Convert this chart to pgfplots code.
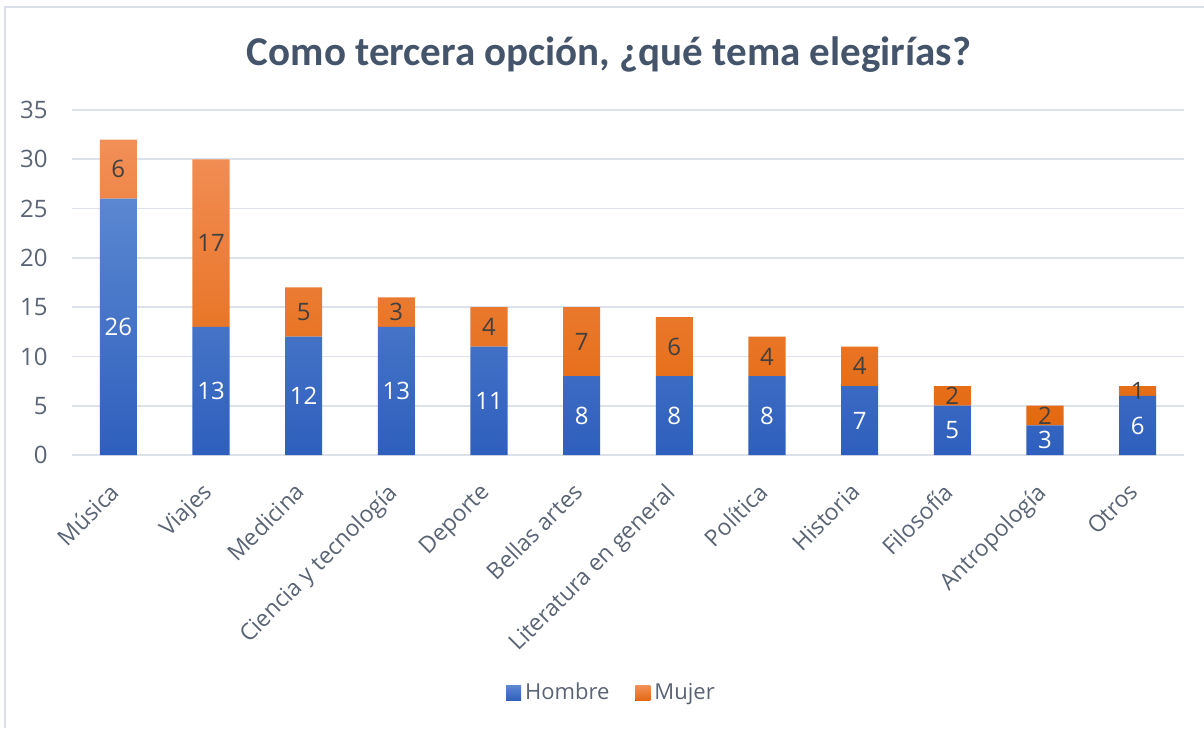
\documentclass[border=0pt]{standalone}
\usepackage{pgfplots}
\pgfplotsset{compat=1.18}
\usepackage{pgfplotstable}
\usepackage{fontspec}
\setmainfont{Open Sans}
\newfontfamily\titlefont{Carlito}
\definecolor{txt}{HTML}{5A6474}
\definecolor{ttl}{HTML}{44546A}
\definecolor{gridc}{HTML}{DDE1EA}
\definecolor{borderc}{HTML}{D9DEE8}
\definecolor{bluetop}{HTML}{5B87D1}
\definecolor{bluebot}{HTML}{2E5FBD}
\definecolor{orgtop}{HTML}{F28F58}
\definecolor{orgbot}{HTML}{E4690F}

\pgfplotstableread{
x h m
0 26 6
1 13 17
2 12 5
3 13 3
4 11 4
5 8 7
6 8 6
7 8 4
8 7 4
9 5 2
10 3 2
11 6 1
}\datatable

\begin{document}
\begin{tikzpicture}
\path[use as bounding box] (0pt,0pt) rectangle (602pt,-364pt);
\fill[white] (0pt,0pt) rectangle (602pt,-364pt);
\draw[color=borderc, line width=1pt] (2.5pt,-364pt) -- (2.5pt,-3.5pt) -- (602pt,-3.5pt);
\node[font=\titlefont\bfseries\fontsize{20.5}{24}\selectfont, text=ttl] at (304.5pt,-27.5pt) {Como tercera opción, ¿qué tema elegirías?};
\begin{axis}[
  at={(36pt,-227.5pt)}, anchor=south west,
  width=556pt, height=172.5pt, scale only axis,
  ybar stacked, bar width=0.4,
  xmin=-0.5, xmax=11.5, ymin=0, ymax=35,
  ytick={0,5,...,35},
  xtick={0,...,11},
  xticklabels={Música,Viajes,Medicina,Ciencia y tecnología,Deporte,Bellas artes,Literatura en general,Política,Historia,Filosofía,Antropología,Otros},
  axis line style={draw=none},
  ymajorgrids, grid style={color=gridc, line width=0.8pt},
  major tick length=0pt,
  /pgf/number format/assume math mode=true,
  tick label style={text=txt},
  xticklabel style={font=\fontsize{11.5}{13}\selectfont, xshift=-5pt, yshift=-13pt, rotate=45, anchor=north east, inner sep=0pt},
  yticklabel style={font=\fontsize{12}{14}\selectfont, anchor=east, inner sep=0pt, xshift=-12pt},
  legend style={at={(0.486,-0.69)}, anchor=center, draw=none, fill=none,
    legend columns=2, font=\fontsize{11}{13}\selectfont, text=txt,
    /tikz/every even column/.append style={column sep=11pt},
    legend cell align=left},
  legend image code/.code={\fill[#1] (0pt,-3.75pt) rectangle (7.5pt,3.75pt);},
  clip=false,
]
\addplot[draw=none, top color=bluetop, bottom color=bluebot,
  nodes near coords, point meta=explicit,
  every node near coord/.append style={anchor=center, text=white, font=\fontsize{12}{14}\selectfont}]
  table[x=x, y=h, meta=h] {\datatable};
\addlegendentry{Hombre}
\addplot[draw=none, top color=orgtop, bottom color=orgbot,
  nodes near coords, point meta=explicit,
  every node near coord/.append style={anchor=center, text=black!75, font=\fontsize{12}{14}\selectfont}]
  table[x=x, y=m, meta=m] {\datatable};
\addlegendentry{Mujer}
\end{axis}
\end{tikzpicture}
\end{document}
